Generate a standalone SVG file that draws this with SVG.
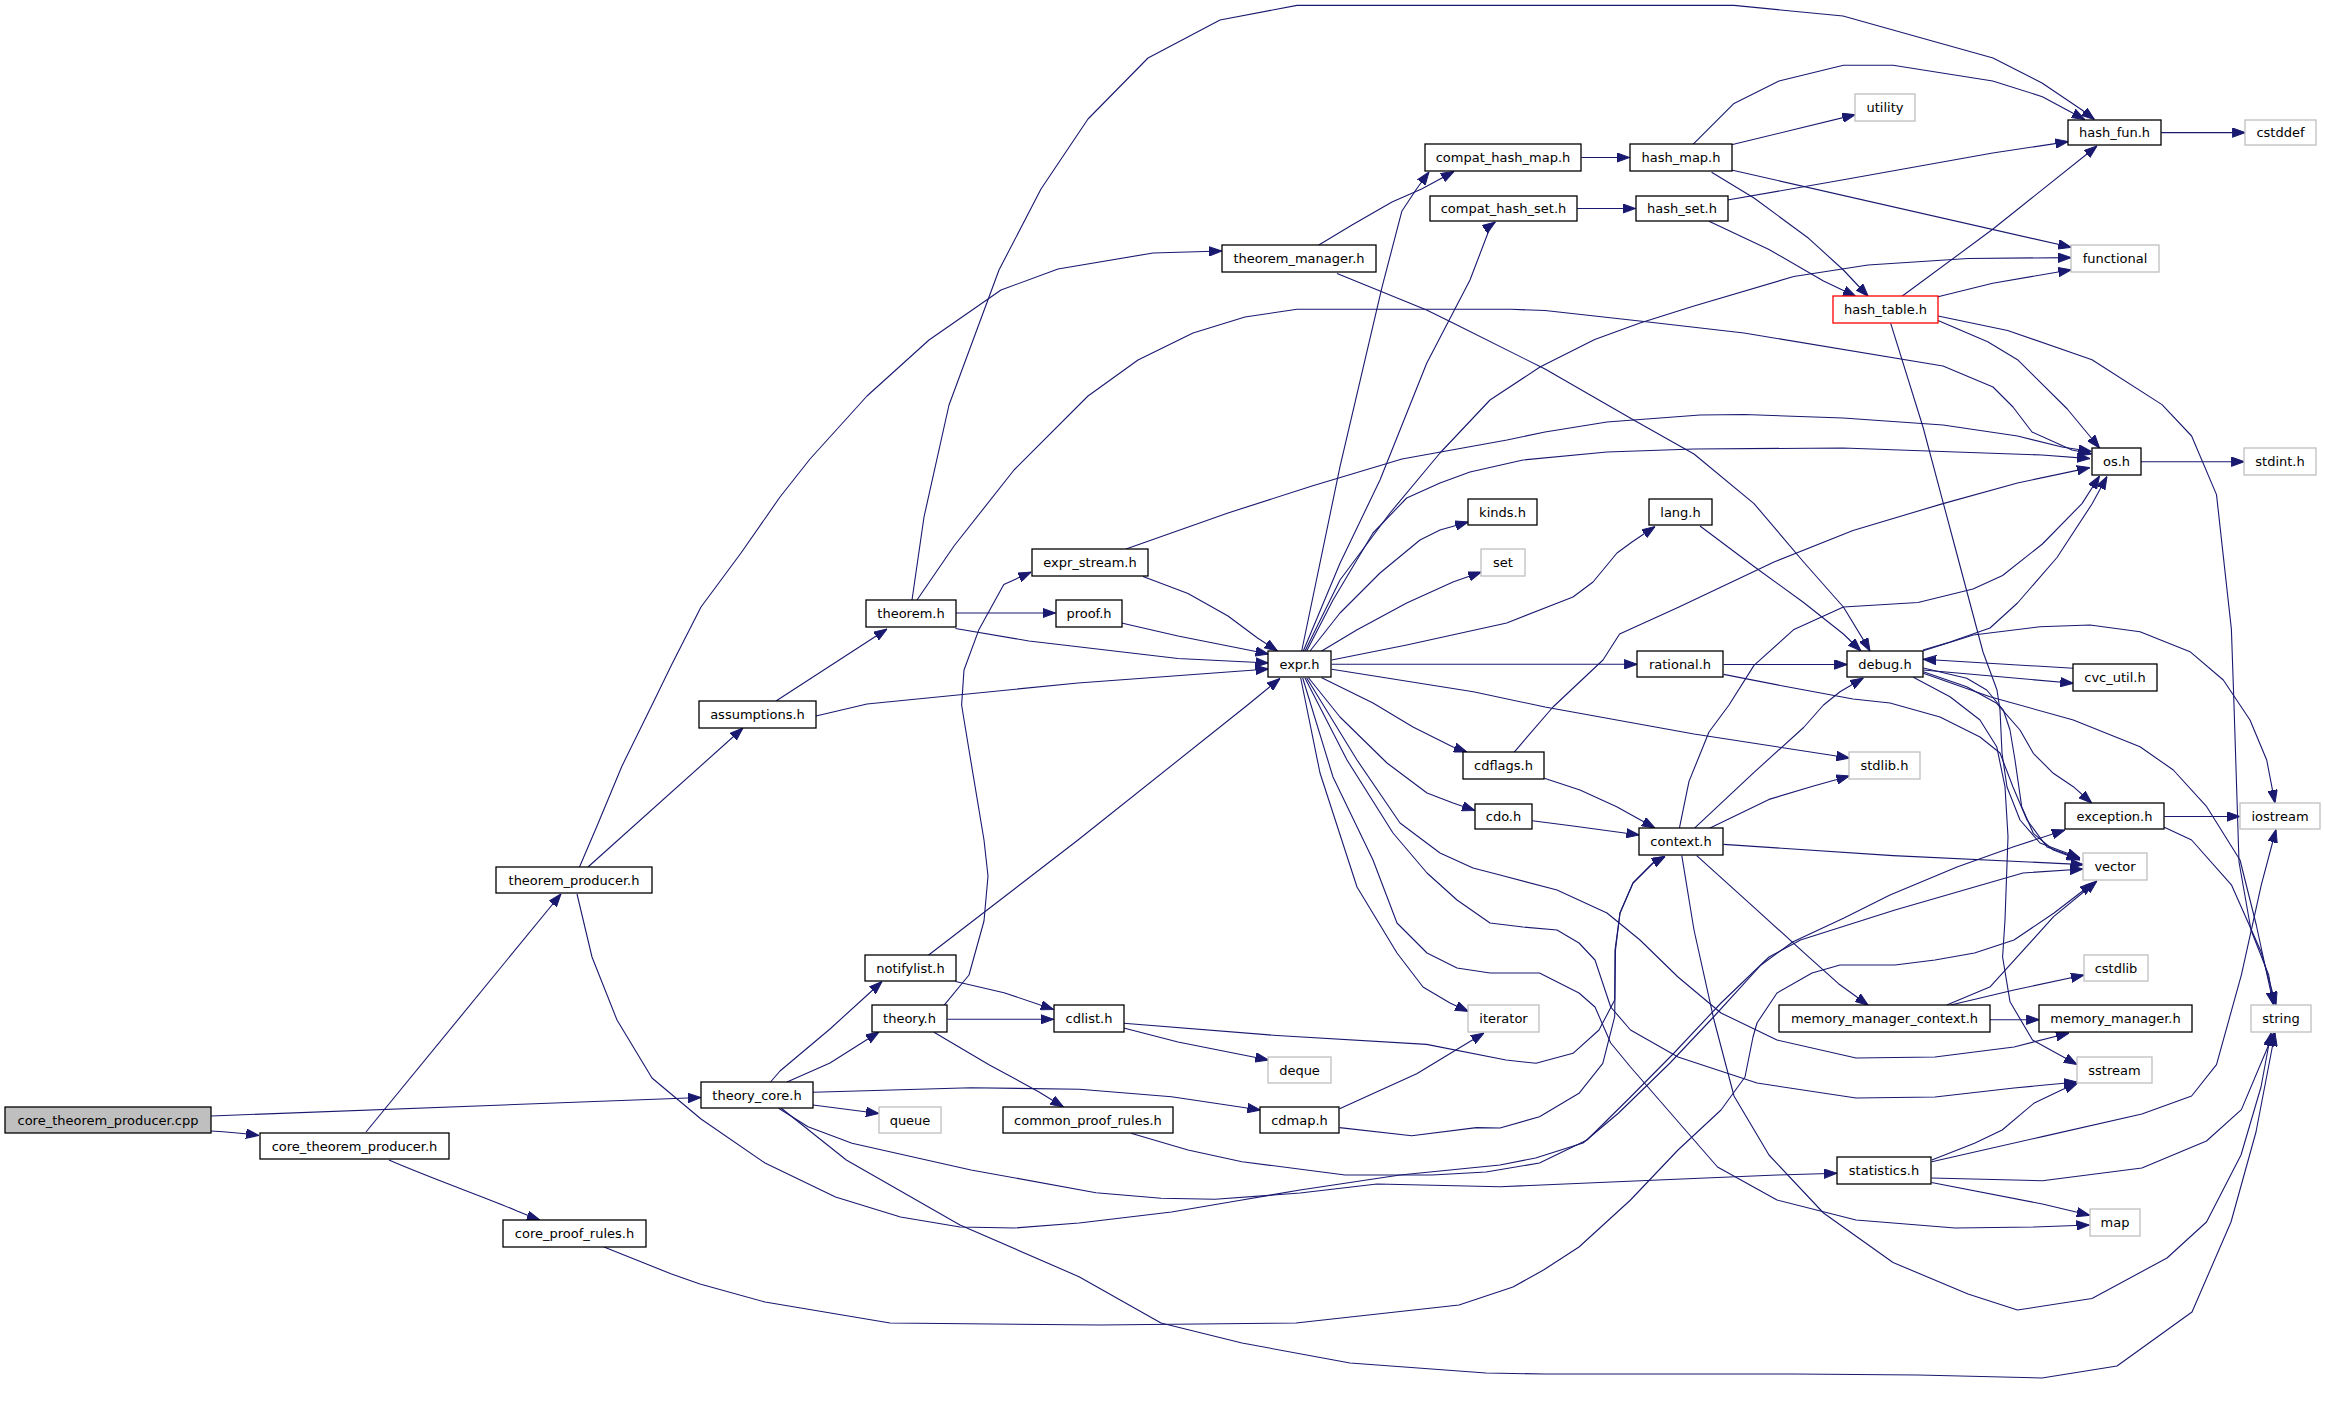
<svg xmlns="http://www.w3.org/2000/svg" width="2325" height="1410" viewBox="0 0 2325 1410">
<defs>
<marker id="ah" viewBox="0 0 13 10" refX="13" refY="5" markerWidth="13" markerHeight="10" markerUnits="userSpaceOnUse" orient="auto">
<path d="M0,0.3 L13,5 L0,9.7 z" fill="#191970" stroke="#191970" stroke-width="1"/>
</marker>
<style>
.n rect{fill:#fff;stroke:#000;stroke-width:1.3}
.x rect{fill:#fff;stroke:#bfbfbf;stroke-width:1.3}
.r rect{fill:#fff;stroke:#ff0000;stroke-width:1.3}
.g rect{fill:#bfbfbf;stroke:#000;stroke-width:1.3}
text{font-family:"DejaVu Sans","Liberation Sans",sans-serif;font-size:13px;text-anchor:middle;fill:#000}
#edges path{fill:none;stroke:#191970;stroke-width:1.1;stroke-linejoin:round;marker-end:url(#ah)}
</style>
</defs>
<rect width="2325" height="1410" fill="#fff"/>
<g id="edges">
<path d="M211,1116 L701,1097.5"/>
<path d="M211,1131 C230,1132 245,1133.5 259,1135.5"/>
<path d="M366,1132 L561,894"/>
<path d="M389,1160 C430,1178 490,1199 517,1211 C527,1215 534,1218 540,1220"/>
<path d="M588,867 L743,728"/>
<path d="M579.5,867 L597,826 L622,766 L652,705 L671.5,665 L701,607 L741,553 L780,497 L810,459 L867,396 L929,340 L1001,290 L1058,269 L1153,253 L1222,251"/>
<path d="M577,894 L592,957 L617,1020 L652,1078 L701,1119 L765,1163 L835.5,1197 L900.5,1217 L960,1227 L1014,1228 L1079,1223 L1171.5,1212 L1242,1200 L1300,1190 L1400,1175 L1500,1165 L1535.6,1158 L1583,1143 L1618.6,1113 L1670,1063 L1713.5,1017 L1761,965 L1792.6,942 L1844,918 L1890,895 L1957,867 L2013,847 L2065,830"/>
<path d="M604,1247 L671.5,1274 L700,1284 L765,1302 L890,1323 L1100,1325 L1296,1323 L1459,1305 L1513,1287 L1543.5,1270 L1579,1247 L1630.5,1200 L1678,1150 L1721,1110 L1745,1077 L1753,1037 L1757,1023 L1777,993 L1812,973 L1840,965 L1895,965 L1935,960 L1974.5,953 L2014,940 L2054,913 L2093,883"/>
<path d="M776,701 L887,629"/>
<path d="M816,716 L867,704 L1078,683 L1268.5,669"/>
<path d="M956,613 L1055.5,613"/>
<path d="M955.5,628.5 L1029,641 L1178,658.5 L1268.5,663"/>
<path d="M912,600 L924,517 L949,405 L999,270 L1041,189 L1088,119 L1148,58 L1220,20 L1297,5.4 L1560,5.4 L1734,5.4 L1843,16 L1993,58 L2042,83 L2082,110 L2094.5,119.5"/>
<path d="M917,600 L954,546 L1014,470 L1088,396 L1138,360 L1193,333 L1245,317 L1297,309.3 L1511,309.3 L1545,310.5 L1644,321.5 L1744,333 L1943,366 L1993,387 L2013,407 L2032,432 L2072,450 L2091.5,454"/>
<path d="M1121.5,623 L1178,636 L1268.5,654"/>
<path d="M1143,576.5 L1188,593.5 L1228,616 L1257.5,638 L1277.5,651"/>
<path d="M1126,549 L1228,513 L1312,486 L1402,459 L1507,440 L1545,432 L1607,422 L1700,415 L1744,414.5 L1843,418 L1943,425 L2017.5,436 L2062,447 L2091.5,451.5"/>
<path d="M1318,245.5 L1352,225 L1392,202 L1421.6,189 L1454,171.5"/>
<path d="M1337,273.4 L1353,280 L1426.6,310 L1453,323 L1545,369 L1634.5,420.4 L1694,454 L1754,503.6 L1803.6,562 L1843.4,607 L1868,647.4 L1870,651"/>
<path d="M1301.7,651 L1340,466.7 L1381.9,287.7 L1401.8,211.3 L1416.7,188.8 L1429,172"/>
<path d="M1303.3,651 L1340,563.3 L1380,480 L1426.7,363.3 L1470,280 L1491,225 L1495.3,222"/>
<path d="M1305,651 L1340,580 L1390,513 L1440,453 L1490,400 L1540,367 L1594.7,339.4 L1640,323 L1694,306 L1793.7,276.5 L1868,265 L1968,258.5 L2071,257.6"/>
<path d="M1306.7,651 L1333,600 L1373,533 L1406.7,498 L1440,483 L1470,472 L1523,460 L1607,452 L1694,449 L1843,448 L2042,455 L2090,458.6"/>
<path d="M1310,651 L1340,613 L1380,573 L1420,540 L1440,530 L1468.3,522"/>
<path d="M1321.7,651 L1356.7,630 L1406.7,603 L1453,582 L1481.3,572"/>
<path d="M1331.7,660 L1406.7,645 L1506.7,623 L1573,597 L1593,582 L1617,553 L1632,542 L1655,526.5"/>
<path d="M1331.7,664.3 L1637.3,664.3"/>
<path d="M1331.7,669.3 L1473.3,691.7 L1545,707 L1694,734 L1849.4,758"/>
<path d="M1321.7,677.7 L1373,703 L1413,727 L1453,747 L1467,752"/>
<path d="M1308.3,677.5 L1340,717 L1387,763 L1427,793 L1453,803 L1475,810.5"/>
<path d="M1306.7,678 L1357,760 L1400,823 L1440,853 L1473,868 L1500,875 L1557,890 L1607,913 L1640,940 L1678,977 L1721,1013 L1777,1040 L1856,1058 L1935,1057 L2014,1047 L2069,1033"/>
<path d="M1305,678 L1347,760 L1393,833 L1427,873 L1457,900 L1490,923 L1523,927 L1557,930 L1579,943 L1595,960 L1610.7,1007 L1630.5,1030 L1678,1057 L1757,1083 L1856,1098 L1935,1097 L2014,1088 L2077,1082"/>
<path d="M1302.7,678 L1333,777 L1373,860 L1397,923 L1427,953 L1457,968 L1490,973 L1539.5,973 L1579,993 L1595,1007 L1610.7,1043 L1630.5,1067 L1674,1117 L1717.5,1167 L1777,1200 L1856,1220 L1955,1228 L2034,1227 L2089.5,1225"/>
<path d="M1300.7,678 L1320,773 L1357,887 L1397,953 L1423,987 L1450,1003 L1468.3,1011.5"/>
<path d="M928,955.5 L1078,840 L1247.6,705 L1280,678.5"/>
<path d="M955.6,981.5 L1004,992.7 L1053.6,1009.5"/>
<path d="M947.6,1019.3 L1053.6,1019.3"/>
<path d="M944,1005.3 L969,975 L984,921 L988,876 L984,840 L969,750 L961.6,705 L964,670 L979,629.4 L1003.8,584.5 L1031.2,572"/>
<path d="M934,1032.3 L989,1064.7 L1038.6,1091.7 L1063.5,1107"/>
<path d="M770.5,1082 L780,1071 L830,1029 L869.5,993 L882,981.5"/>
<path d="M787,1082 L830,1063 L879,1032"/>
<path d="M813,1105 L879,1113.5"/>
<path d="M813,1092.3 L971,1087.7 L1079.4,1089.3 L1171.5,1096.7 L1260.4,1110"/>
<path d="M778.6,1108.3 L808,1126.7 L852,1143.3 L971,1170 L1096,1192.7 L1161,1198.3 L1215,1199.3 L1300,1193 L1377,1184 L1500,1186.7 L1658,1180 L1777,1175 L1837,1173.3"/>
<path d="M781.3,1108.3 L846.3,1160 L960,1225 L1079,1276.7 L1161,1323 L1242,1343 L1350,1363 L1486,1373 L1545,1374 L1794,1374 L1918,1375 L2042,1378 L2117,1366 L2192,1312 L2231,1222 L2256,1132 L2275,1033"/>
<path d="M1123.7,1028 L1178,1042 L1268.4,1060"/>
<path d="M1123.7,1023.3 L1277,1035.5 L1426.6,1044.4 L1506,1060 L1536,1063.3 L1573,1053.3 L1599,1030 L1614.7,1000 L1615,950 L1620,913 L1633,883 L1653,863 L1665,856.5"/>
<path d="M1339.6,1108.7 L1416.7,1073.7 L1484,1033"/>
<path d="M1339.6,1127.6 L1411.7,1135.7 L1476.4,1127.6 L1500,1128 L1539.5,1116.7 L1579,1093.3 L1602.8,1063.3 L1614.7,1016.7 L1615.5,950 L1620,913 L1633,883 L1653,863 L1665,856.5"/>
<path d="M1131,1133.3 L1188,1150 L1242,1161.7 L1345,1175 L1432,1175 L1486,1172 L1539.5,1163 L1587,1140 L1630.5,1097 L1674,1053 L1721,1003 L1769,957 L1800.5,940 L1895,910 L1974.5,887 L2023,873 L2083,869"/>
<path d="M1544.3,778.3 L1580,790 L1616.7,806.7 L1655,828"/>
<path d="M1514,752.3 L1553,707 L1603,660 L1619.6,634 L1679,607 L1774,562 L1853,530.5 L1943,503.6 L2017.5,483 L2090,467.6"/>
<path d="M1532.3,820.7 L1573,826 L1639.3,835"/>
<path d="M1694,828.6 L1754,772.4 L1803.6,727.5 L1823.5,705 L1840,691.7 L1863.3,678"/>
<path d="M1679.3,828.6 L1689,781.4 L1709,732 L1729,705 L1754,665.4 L1794,629.4 L1843.4,607 L1918,602.5 L1973,589 L2002.6,575.5 L2042.4,544 L2082,503.6 L2099.6,476"/>
<path d="M1709,828.6 L1769,799.4 L1813.6,786 L1849.4,776"/>
<path d="M1723.6,844.4 L1893,855.6 L2083.5,864.6"/>
<path d="M1696.7,855.6 L1754,907.3 L1803.6,952.3 L1838.5,983.7 L1868.3,1005.3"/>
<path d="M1681.8,855.6 L1694,930 L1714,1020 L1734,1096 L1769,1155 L1823.5,1213 L1893,1262.5 L1968,1294 L2017.5,1310 L2092,1298.5 L2167,1258 L2206.5,1222 L2241,1155 L2261,1087 L2271,1033"/>
<path d="M1700,526 L1754,566.5 L1803.6,602.5 L1843.4,634 L1861,651"/>
<path d="M1723.6,664.5 L1847.4,664.5"/>
<path d="M1723.6,674.4 L1783,686 L1853,699 L1890,703 L1940,717 L1980,737 L2000,753 L2013,787 L2027,820 L2047,847 L2080,859"/>
<path d="M1923,650 L1950,642 L1990,628 L2017.5,603 L2057,557.5 L2092,504 L2107,476.5"/>
<path d="M1923.3,670 L2073.3,683.3"/>
<path d="M2073.3,668.3 L1923.3,659.3"/>
<path d="M1923.3,671.7 L1966.7,686.7 L1996.7,703.3 L2020,730 L2033.3,753.3 L2053.3,773.3 L2073.3,786.7 L2091.7,803"/>
<path d="M1923.3,650.7 L1973.3,635 L2040,626.7 L2090,625 L2140,631.7 L2190,651.7 L2223.3,680 L2250,720 L2266.7,760 L2275,803"/>
<path d="M1923.3,673.3 L1990,696.7 L2073.3,720 L2140,746.7 L2173.3,770 L2206.7,806.7 L2240,860 L2256.3,925 L2266,970 L2273.7,1005"/>
<path d="M1923.3,668 L1966.7,678.3 L1986.7,690 L2003.3,710 L2010,730 L2015,760 L2021.7,806.7 L2033.3,833.3 L2053.3,850 L2080,860"/>
<path d="M1913.3,677.3 L1950,696.7 L1980,720 L1996.7,746.7 L2005,786.7 L2008,836.7 L2005,920 L2002.6,957 L2010,1001.7 L2032.5,1040 L2077,1064.5"/>
<path d="M1890.7,323.3 L1923,427 L1953,539.5 L1983,652 L1997,690 L2000,710 L2002,753 L2007,787 L2020,820 L2040,843 L2080,858"/>
<path d="M2164.3,816.5 L2240,816.5"/>
<path d="M2164.3,827.3 L2191.6,840 L2231.4,884.8 L2261.3,952.3 L2276,1005"/>
<path d="M1581.3,157.5 L1629.6,157.5"/>
<path d="M1577.3,208.5 L1635.5,208.5"/>
<path d="M1731.5,144.8 L1855.4,114.6"/>
<path d="M1693,144.3 L1734,103.4 L1779,81 L1843.4,65.2 L1893,65.2 L1992.7,81 L2042.4,96.7 L2084.7,119.5"/>
<path d="M1731.5,170 L2071.3,247.3"/>
<path d="M1711.6,172.2 L1754,198 L1808.6,238.3 L1843.4,270 L1868.3,296.5"/>
<path d="M1727.5,200 L1843.4,179.8 L1992.7,153 L2068.3,141.6"/>
<path d="M1709,221.2 L1769,249.5 L1823.5,281 L1856,296.5"/>
<path d="M1902,296.3 L1992.7,229.3 L2097,146"/>
<path d="M1938,296.7 L1992.7,283.2 L2071.3,269.8"/>
<path d="M1938,320.6 L1987.7,341.7 L2017.5,359.7 L2067.3,409 L2099.6,448"/>
<path d="M1938,316 L2007.6,330.5 L2092,359.7 L2162,404.6 L2191.6,436 L2216.5,494.6 L2231.4,629.4 L2234,705 L2239,862 L2251,930 L2268.7,975 L2273.7,1005"/>
<path d="M2161.3,132.6 L2245.3,132.6"/>
<path d="M2140.5,461.7 L2244.4,461.7"/>
<path d="M1989.7,1019.7 L2039.4,1019.7"/>
<path d="M1946.8,1005 L1990.3,986.7 L2053.6,916.7 L2097,881"/>
<path d="M1950.8,1005 L2014,990 L2084,975"/>
<path d="M1931.8,1160 L1974.5,1143.3 L2002.2,1130 L2033.8,1103.3 L2061.5,1090 L2077.3,1083.3"/>
<path d="M1931.8,1161.7 L2042.4,1136.6 L2141.9,1114 L2191.6,1096 L2216.5,1064.7 L2241.4,974.8 L2261.3,884.8 L2276,829.5"/>
<path d="M1931.5,1178 L2042.4,1180.7 L2141.9,1168 L2206.5,1141 L2241.4,1109.6 L2273.7,1033"/>
<path d="M1931.5,1182.5 L2042.4,1204 L2089.7,1215.3"/>
</g>
<g id="n_cpp" class="g"><rect x="5" y="1107" width="206" height="26"/><text x="108" y="1124.5">core_theorem_producer.cpp</text></g>
<g id="n_cth" class="n"><rect x="260" y="1133" width="189" height="26"/><text x="354.5" y="1150.5">core_theorem_producer.h</text></g>
<g id="n_tp" class="n"><rect x="496" y="867" width="156" height="26"/><text x="574" y="884.5">theorem_producer.h</text></g>
<g id="n_cpr" class="n"><rect x="503" y="1220" width="143" height="27"/><text x="574.5" y="1238">core_proof_rules.h</text></g>
<g id="n_tcore" class="n"><rect x="701" y="1082" width="112" height="26"/><text x="757" y="1099.5">theory_core.h</text></g>
<g id="n_asm" class="n"><rect x="699" y="701" width="117" height="27"/><text x="757.5" y="719">assumptions.h</text></g>
<g id="n_tm" class="n"><rect x="1222" y="245" width="154" height="27"/><text x="1299" y="263">theorem_manager.h</text></g>
<g id="n_chm" class="n"><rect x="1425" y="144" width="156" height="27"/><text x="1503" y="162">compat_hash_map.h</text></g>
<g id="n_chs" class="n"><rect x="1430" y="196" width="147" height="25"/><text x="1503.5" y="213">compat_hash_set.h</text></g>
<g id="n_thm" class="n"><rect x="866" y="600" width="90" height="27"/><text x="911" y="618">theorem.h</text></g>
<g id="n_proof" class="n"><rect x="1056" y="600" width="66" height="27"/><text x="1089" y="618">proof.h</text></g>
<g id="n_es" class="n"><rect x="1032" y="549" width="116" height="27"/><text x="1090" y="567">expr_stream.h</text></g>
<g id="n_expr" class="n"><rect x="1268" y="651" width="63" height="26"/><text x="1299.5" y="668.5">expr.h</text></g>
<g id="n_kinds" class="n"><rect x="1468" y="499" width="69" height="26"/><text x="1502.5" y="516.5">kinds.h</text></g>
<g id="n_set" class="x"><rect x="1481" y="549" width="44" height="27"/><text x="1503" y="567">set</text></g>
<g id="n_lang" class="n"><rect x="1649" y="499" width="63" height="26"/><text x="1680.5" y="516.5">lang.h</text></g>
<g id="n_rational" class="n"><rect x="1637" y="651" width="86" height="26"/><text x="1680" y="668.5">rational.h</text></g>
<g id="n_cdflags" class="n"><rect x="1463" y="752" width="81" height="27"/><text x="1503.5" y="770">cdflags.h</text></g>
<g id="n_cdo" class="n"><rect x="1475" y="804" width="57" height="25"/><text x="1503.5" y="821">cdo.h</text></g>
<g id="n_context" class="n"><rect x="1639" y="828" width="84" height="27"/><text x="1681" y="846">context.h</text></g>
<g id="n_iterator" class="x"><rect x="1468" y="1005" width="71" height="27"/><text x="1503.5" y="1023">iterator</text></g>
<g id="n_deque" class="x"><rect x="1268" y="1057" width="63" height="26"/><text x="1299.5" y="1074.5">deque</text></g>
<g id="n_cdmap" class="n"><rect x="1260" y="1107" width="79" height="26"/><text x="1299.5" y="1124.5">cdmap.h</text></g>
<g id="n_cpr2" class="n"><rect x="1003" y="1107" width="170" height="26"/><text x="1088" y="1124.5">common_proof_rules.h</text></g>
<g id="n_queue" class="x"><rect x="879" y="1107" width="62" height="26"/><text x="910" y="1124.5">queue</text></g>
<g id="n_notifylist" class="n"><rect x="865" y="955" width="91" height="26"/><text x="910.5" y="972.5">notifylist.h</text></g>
<g id="n_theory" class="n"><rect x="872" y="1005" width="75" height="27"/><text x="909.5" y="1023">theory.h</text></g>
<g id="n_cdlist" class="n"><rect x="1054" y="1005" width="70" height="27"/><text x="1089" y="1023">cdlist.h</text></g>
<g id="n_hash_map" class="n"><rect x="1630" y="144" width="102" height="27"/><text x="1681" y="162">hash_map.h</text></g>
<g id="n_hash_set" class="n"><rect x="1636" y="196" width="92" height="25"/><text x="1682" y="213">hash_set.h</text></g>
<g id="n_utility" class="x"><rect x="1855" y="94" width="60" height="27"/><text x="1885" y="112">utility</text></g>
<g id="n_hash_fun" class="n"><rect x="2068" y="120" width="93" height="25"/><text x="2114.5" y="137">hash_fun.h</text></g>
<g id="n_cstddef" class="x"><rect x="2245" y="120" width="71" height="25"/><text x="2280.5" y="137">cstddef</text></g>
<g id="n_functional" class="x"><rect x="2071" y="245" width="88" height="27"/><text x="2115" y="263">functional</text></g>
<g id="n_hash_table" class="r"><rect x="1833" y="296" width="105" height="27"/><text x="1885.5" y="314">hash_table.h</text></g>
<g id="n_os" class="n"><rect x="2092" y="448" width="49" height="27"/><text x="2116.5" y="466">os.h</text></g>
<g id="n_stdint" class="x"><rect x="2244" y="448" width="72" height="27"/><text x="2280" y="466">stdint.h</text></g>
<g id="n_debug" class="n"><rect x="1847" y="651" width="76" height="26"/><text x="1885" y="668.5">debug.h</text></g>
<g id="n_cvc_util" class="n"><rect x="2073" y="664" width="84" height="27"/><text x="2115" y="682">cvc_util.h</text></g>
<g id="n_stdlib" class="x"><rect x="1849" y="752" width="71" height="27"/><text x="1884.5" y="770">stdlib.h</text></g>
<g id="n_exception" class="n"><rect x="2065" y="803" width="99" height="26"/><text x="2114.5" y="820.5">exception.h</text></g>
<g id="n_iostream" class="x"><rect x="2240" y="803" width="80" height="26"/><text x="2280" y="820.5">iostream</text></g>
<g id="n_vector" class="x"><rect x="2083" y="853" width="64" height="27"/><text x="2115" y="871">vector</text></g>
<g id="n_cstdlib" class="x"><rect x="2084" y="955" width="64" height="26"/><text x="2116" y="972.5">cstdlib</text></g>
<g id="n_mmc" class="n"><rect x="1779" y="1005" width="211" height="27"/><text x="1884.5" y="1023">memory_manager_context.h</text></g>
<g id="n_mm" class="n"><rect x="2039" y="1005" width="153" height="27"/><text x="2115.5" y="1023">memory_manager.h</text></g>
<g id="n_string" class="x"><rect x="2251" y="1005" width="60" height="27"/><text x="2281" y="1023">string</text></g>
<g id="n_sstream" class="x"><rect x="2077" y="1057" width="75" height="26"/><text x="2114.5" y="1074.5">sstream</text></g>
<g id="n_statistics" class="n"><rect x="1837" y="1157" width="94" height="27"/><text x="1884" y="1175">statistics.h</text></g>
<g id="n_map" class="x"><rect x="2090" y="1209" width="50" height="27"/><text x="2115" y="1227">map</text></g>
</svg>
